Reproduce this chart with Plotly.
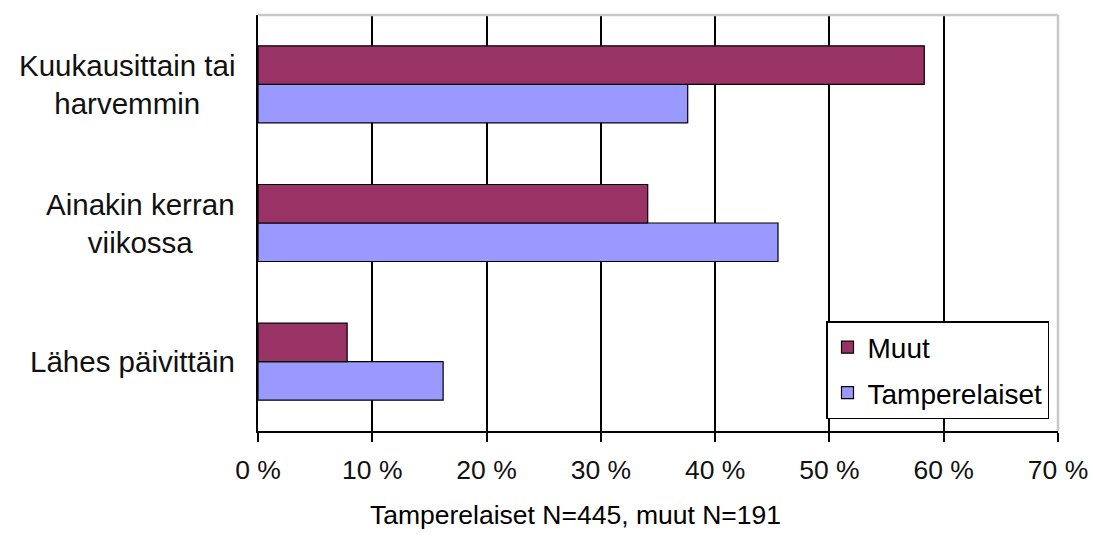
import plotly.graph_objects as go

categories = ["Lähes päivittäin", "Ainakin kerran<br>viikossa", "Kuukausittain tai<br>harvemmin"]
muut = [7.8, 34.1, 58.3]
tamperelaiset = [16.2, 45.5, 37.6]
tick_vals = [0, 10, 20, 30, 40, 50, 60, 70]
tick_text = ["0 %", "10 %", "20 %", "30 %", "40 %", "50 %", "60 %", "70 %"]
subtitle = "Tamperelaiset N=445, muut N=191"

W, H = 1093, 545
L, R, T, B = 258, 35, 15, 114
pw = W - L - R
ph = H - T - B
FONT = "Liberation Sans, Arial, sans-serif"

fig = go.Figure()
fig.add_trace(go.Bar(y=categories, x=tamperelaiset, name="Tamperelaiset", orientation="h",
                     legendgroup="t", legendrank=2,
                     marker=dict(color="#9999FF", line=dict(color="black", width=1.2))))
fig.add_trace(go.Bar(y=categories, x=muut, name="Muut", orientation="h",
                     legendgroup="m", legendrank=1,
                     marker=dict(color="#993366", line=dict(color="black", width=1.2))))

for c in categories:
    fig.add_annotation(x=(237 - L) / pw, xref="paper", y=c, yref="y", text=c,
                       xanchor="right", align="center", showarrow=False,
                       font=dict(family=FONT, size=29.5, color="#111111"))

fig.add_annotation(x=(575 - L) / pw, xref="paper", y=-(515 - (H - B)) / ph, yref="paper",
                   text=subtitle, showarrow=False, xanchor="center", yanchor="middle",
                   font=dict(family=FONT, size=26.5, color="black"))

# light gray plot border (top/right)
fig.add_shape(type="line", xref="paper", yref="paper", x0=0, x1=1, y0=1, y1=1,
              line=dict(color="#c8c8c8", width=2.5), layer="above")
fig.add_shape(type="line", xref="paper", yref="paper", x0=1, x1=1, y0=0, y1=1,
              line=dict(color="#c8c8c8", width=2.5), layer="above")

fig.update_layout(
    width=W, height=H,
    margin=dict(l=L, r=R, t=T, b=B, pad=0, autoexpand=False),
    paper_bgcolor="white", plot_bgcolor="white",
    barmode="group", bargap=0.445, bargroupgap=0,
    showlegend=True,
    legend=dict(x=(826 - L) / pw, y=(H - B - 321) / ph, xanchor="left", yanchor="top",
                traceorder="grouped", tracegroupgap=6,
                bordercolor="black", borderwidth=1.5, bgcolor="white",
                font=dict(family=FONT, size=28, color="black"), itemwidth=30),
    xaxis=dict(range=[0, 70], tickvals=tick_vals, ticktext=tick_text, showgrid=True,
               gridcolor="black", gridwidth=1.5, showline=True, linecolor="black", linewidth=1.5,
               ticks="outside", ticklen=9, tickcolor="black", tickwidth=1.5, zeroline=False,
               automargin=False, ticklabelstandoff=5,
               tickfont=dict(family=FONT, size=26.5, color="#111111")),
    yaxis=dict(showticklabels=False, showline=True, linecolor="black", linewidth=2,
               ticks="", showgrid=False, automargin=False),
)

fig.write_html("out.html", config={"displayModeBar": False},
               post_script="document.body.style.margin='0';")
